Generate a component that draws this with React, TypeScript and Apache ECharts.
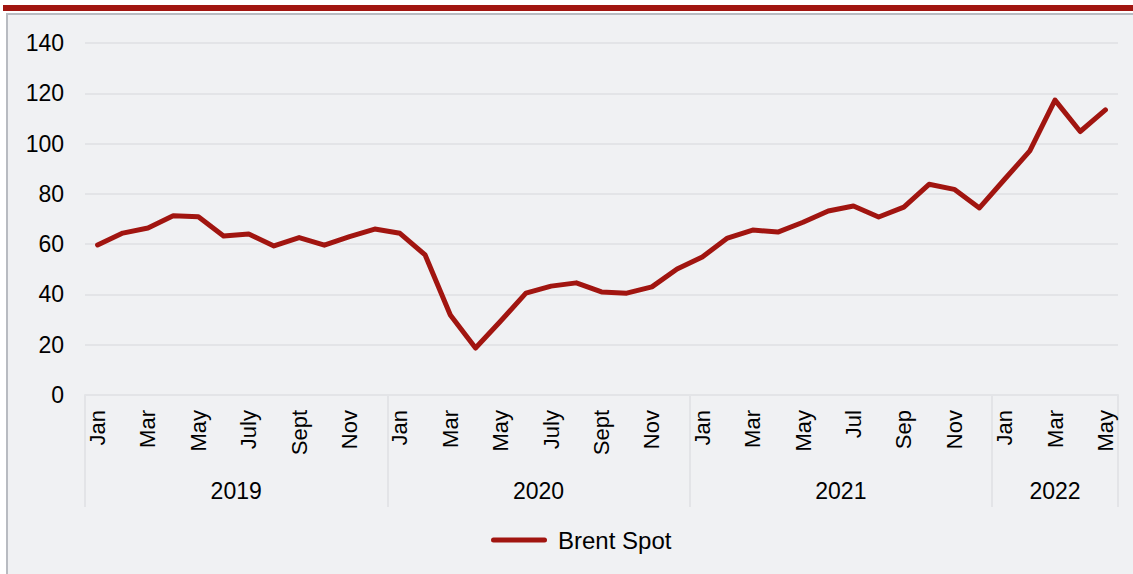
import React, { useEffect, useRef } from 'react';
import * as echarts from 'echarts';

// ---- data ----
const years = ['2019', '2020', '2021', '2022'];
const monthLabels2019 = ['Jan', '', 'Mar', '', 'May', '', 'July', '', 'Sept', '', 'Nov', ''];
const monthLabels2020 = ['Jan', '', 'Mar', '', 'May', '', 'July', '', 'Sept', '', 'Nov', ''];
const monthLabels2021 = ['Jan', '', 'Mar', '', 'May', '', 'Jul', '', 'Sep', '', 'Nov', ''];
const monthLabels2022 = ['Jan', '', 'Mar', '', 'May'];

const brent2019 = [59.7, 64.4, 66.4, 71.3, 70.9, 63.2, 64.0, 59.3, 62.6, 59.6, 63.0, 66.0];
const brent2020 = [64.3, 55.7, 31.8, 18.7, 29.4, 40.5, 43.3, 44.6, 41.0, 40.5, 43.0, 50.1];
const brent2021 = [54.9, 62.4, 65.6, 64.8, 68.7, 73.2, 75.2, 70.8, 74.7, 83.8, 81.8, 74.4];
const brent2022 = [85.8, 97.1, 117.3, 104.8, 113.4];

const yMin = 0;
const yMax = 140;
const yStep = 20;
const seriesName = 'Brent Spot';

// ---- derived ----
const labelsByYear = [monthLabels2019, monthLabels2020, monthLabels2021, monthLabels2022];
const valuesByYear = [brent2019, brent2020, brent2021, brent2022];
const monthLabels = labelsByYear.flat();
const categories = labelsByYear.flatMap((arr, yi) => arr.map((_, mi) => `${years[yi]}-${mi + 1}`));
const values = valuesByYear.flat();

// year axis: half-month slots, points at slot boundaries
const yearBoundaries: number[] = [0];
const yearCenters: number[] = [];
let acc = 0;
labelsByYear.forEach((arr) => {
  yearCenters.push(acc + arr.length);
  acc += arr.length * 2;
  yearBoundaries.push(acc);
});
const yearSlots = Array.from({ length: acc + 1 }, (_, i) => `s${i}`);
const yearSlotLabel = (i: number) => {
  const k = yearCenters.indexOf(i);
  return k >= 0 ? years[k] : '';
};

const RED = '#a11510';
const GRID = '#e3e4e7';
const FONT = '"Liberation Sans", Arial, sans-serif';
const CAPSULE = 'path://M2.5,0 L53.5,0 A2.5,2.5 0 0 1 53.5,5 L2.5,5 A2.5,2.5 0 0 1 2.5,0 Z';

export default function App() {
  const ref = useRef<HTMLDivElement>(null);
  useEffect(() => {
    if (!ref.current) return;
    const chart = echarts.init(ref.current, undefined, { renderer: 'svg' });
    chart.setOption({
      animation: false,
      backgroundColor: '#ffffff',
      textStyle: { fontFamily: FONT },
      graphic: [
        {
          type: 'rect',
          z: -10,
          silent: true,
          shape: { x: 7, y: 14, width: 1140, height: 580 },
          style: { fill: '#f0f1f3', stroke: '#b8bbc1', lineWidth: 2 },
        },
        {
          type: 'rect',
          z: -9,
          silent: true,
          shape: { x: 3, y: 5, width: 1135, height: 6 },
          style: { fill: RED },
        },
      ],
      grid: { left: 85, right: 15, top: 43, bottom: 179, containLabel: false },
      legend: {
        data: [{ name: seriesName, icon: CAPSULE, itemStyle: { color: RED } }],
        left: 486,
        top: 523,
        padding: 5,
        itemWidth: 56,
        itemHeight: 5,
        itemStyle: { color: RED },
        lineStyle: { width: 0 },
        textStyle: { fontSize: 24, color: '#000', fontFamily: FONT, padding: [0, 0, 0, 6] },
      },
      xAxis: [
        {
          type: 'category',
          data: categories,
          boundaryGap: true,
          axisLine: { show: true, lineStyle: { color: GRID, width: 2 } },
          axisTick: { show: false },
          axisLabel: {
            interval: 0,
            rotate: 90,
            margin: 15,
            fontSize: 22,
            color: '#000',
            fontFamily: FONT,
            formatter: (_v: string, i: number) => monthLabels[i],
          },
          splitLine: { show: false },
        },
        {
          type: 'category',
          data: yearSlots,
          position: 'bottom',
          boundaryGap: false,
          axisLine: { show: false },
          axisTick: {
            show: true,
            length: 112,
            interval: (i: number) => yearBoundaries.indexOf(i) >= 0,
            lineStyle: { color: GRID, width: 2 },
          },
          axisLabel: {
            interval: 0,
            margin: 84,
            fontSize: 23,
            color: '#000',
            fontFamily: FONT,
            formatter: (_v: string, i: number) => yearSlotLabel(i),
          },
          splitLine: { show: false },
        },
      ],
      yAxis: {
        type: 'value',
        min: yMin,
        max: yMax,
        interval: yStep,
        axisLine: { show: false },
        axisTick: { show: false },
        axisLabel: { fontSize: 23, color: '#000', margin: 21, fontFamily: FONT },
        splitLine: { show: true, lineStyle: { color: GRID, width: 2 } },
      },
      series: [
        {
          name: seriesName,
          type: 'line',
          xAxisIndex: 0,
          data: values,
          showSymbol: false,
          symbol: 'none',
          lineStyle: { color: RED, width: 5, cap: 'round', join: 'round' },
          itemStyle: { color: RED },
        },
      ],
    });
    return () => chart.dispose();
  }, []);
  return (
    <div
      ref={ref}
      style={{ position: 'absolute', left: 0, top: 0, width: 1133, height: 574 }}
    />
  );
}
